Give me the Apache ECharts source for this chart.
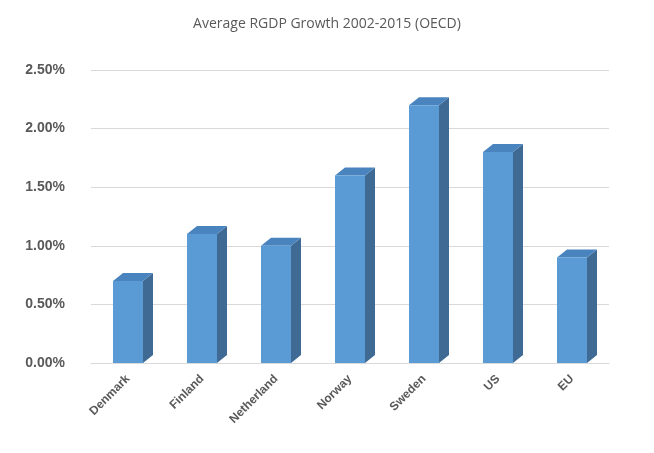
<!DOCTYPE html>
<html>
<head>
<meta charset="utf-8">
<script src="https://cdn.jsdelivr.net/npm/echarts@6/dist/echarts.min.js"></script>
<style>html,body{margin:0;padding:0;background:#fff}#main{width:654px;height:453px}</style>
</head>
<body>
<div id="main"></div>
<script>
var countries = ['Denmark', 'Finland', 'Netherland', 'Norway', 'Sweden', 'US', 'EU']
var growth = [0.70, 1.10, 1.00, 1.60, 2.20, 1.80, 0.90]
var yTicks = [0, 0.5, 1.0, 1.5, 2.0, 2.5]

var chart = echarts.init(document.getElementById('main'))

// draw one 3D box: front, side, top
function renderBar(params, api) {
  var top = api.coord([api.value(0), api.value(1)])
  var base = api.coord([api.value(0), 0])
  var w = 30, dx = 10, dy = 8
  var x0 = top[0] - w / 2, x1 = top[0] + w / 2
  var yt = top[1], yb = base[1]
  return {
    type: 'group',
    children: [
      { type: 'polygon', shape: { points: [[x1, yt], [x1 + dx, yt - dy], [x1 + dx, yb - dy], [x1, yb]] },
        style: { fill: '#3e6a94' } },
      { type: 'polygon', shape: { points: [[x0, yt], [x0 + dx, yt - dy], [x1 + dx, yt - dy], [x1, yt]] },
        style: { fill: '#4a84bf' } },
      { type: 'rect', shape: { x: x0, y: yt, width: w, height: yb - yt },
        style: { fill: '#5b9bd5' } }
    ]
  }
}

chart.setOption({
  animation: false,
  title: {
    text: 'Average RGDP Growth 2002-2015 (OECD)',
    left: 'center', top: 12,
    textStyle: { fontFamily: 'Open Sans', fontSize: 14, fontWeight: 'normal', color: '#595959' }
  },
  grid: { left: 91, right: 45, top: 70, bottom: 90 },
  xAxis: {
    type: 'category',
    data: countries,
    axisLine: { lineStyle: { color: '#d9d9d9' } },
    axisTick: { show: false },
    axisLabel: { rotate: 45, fontWeight: 'bold', fontSize: 12, color: '#595959', fontFamily: 'Liberation Sans', margin: 14 }
  },
  yAxis: {
    type: 'value',
    min: 0, max: 2.5, interval: 0.5,
    axisLine: { show: false },
    axisTick: { show: false },
    splitLine: { lineStyle: { color: '#d9d9d9' } },
    axisLabel: {
      fontWeight: 'bold', fontSize: 14, color: '#595959', fontFamily: 'Liberation Sans', margin: 26,
      formatter: function (v) { return v.toFixed(2) + '%' }
    }
  },
  series: [{
    type: 'custom',
    renderItem: renderBar,
    encode: { x: 0, y: 1 },
    data: growth.map(function (v, i) { return [i, v] })
  }]
})
</script>
</body>
</html>
